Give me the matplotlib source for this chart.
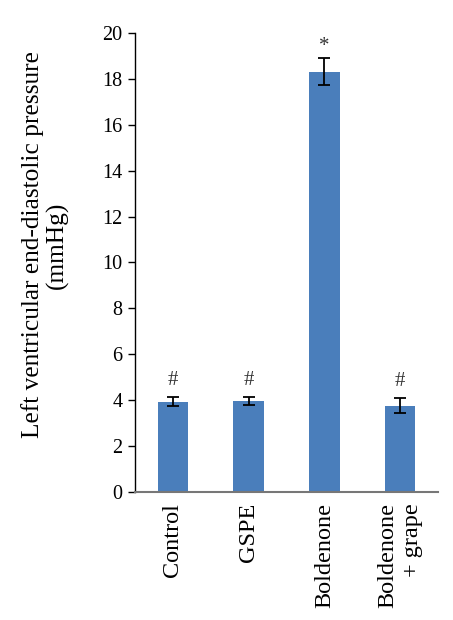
import numpy as np
import matplotlib.pyplot as plt

groups = ['Control', 'GSPE', 'Boldenone', 'Boldenone\n+ grape']
lvedp = [3.93, 3.95, 18.32, 3.75]
sem = [0.2, 0.18, 0.58, 0.33]
marks = ['#', '#', '*', '#']

plt.rcParams['font.family'] = ['Liberation Serif', 'DejaVu Serif']

fig = plt.figure(figsize=(4.53, 6.2), dpi=100)
ax = fig.add_axes([0.298, 0.2065, 0.669, 0.7403])

x = np.arange(len(groups))
ax.bar(x, lvedp, width=0.4, color='#4a7ebb', yerr=sem, capsize=4,
       error_kw=dict(ecolor='black', elinewidth=1.3, capthick=1.3))

# significance marks above the error bars (the asterisk glyph sits high, so less gap)
for xi, v, e, m in zip(x, lvedp, sem, marks):
    gap = 0.1 if m == '*' else 0.3
    ax.text(xi, v + e + gap, m, ha='center', va='bottom', fontsize=15, color='#333333')

ax.set_xlim(-0.5, 3.5)
ax.set_ylim(0, 20)
ax.set_yticks(np.arange(0, 21, 2))
ax.set_xticks(x)
ax.set_xticklabels(groups, rotation=90, fontsize=17.5, va='top', ha='center',
                   multialignment='right')
ax.tick_params(axis='x', length=0, pad=8)
ax.tick_params(axis='y', labelsize=14.5, direction='out', length=5, width=1, pad=4)
ax.spines['top'].set_visible(False)
ax.spines['right'].set_visible(False)
ax.spines['bottom'].set_color('#777777')
ax.spines['bottom'].set_linewidth(1.5)
ax.spines['left'].set_linewidth(1)
ax.set_ylabel('Left ventricular end-diastolic pressure\n(mmHg)', fontsize=18.3,
              linespacing=1.15, va='center')
ax.yaxis.set_label_coords(-0.297, 0.538)

fig.savefig('out.png', dpi=100)
